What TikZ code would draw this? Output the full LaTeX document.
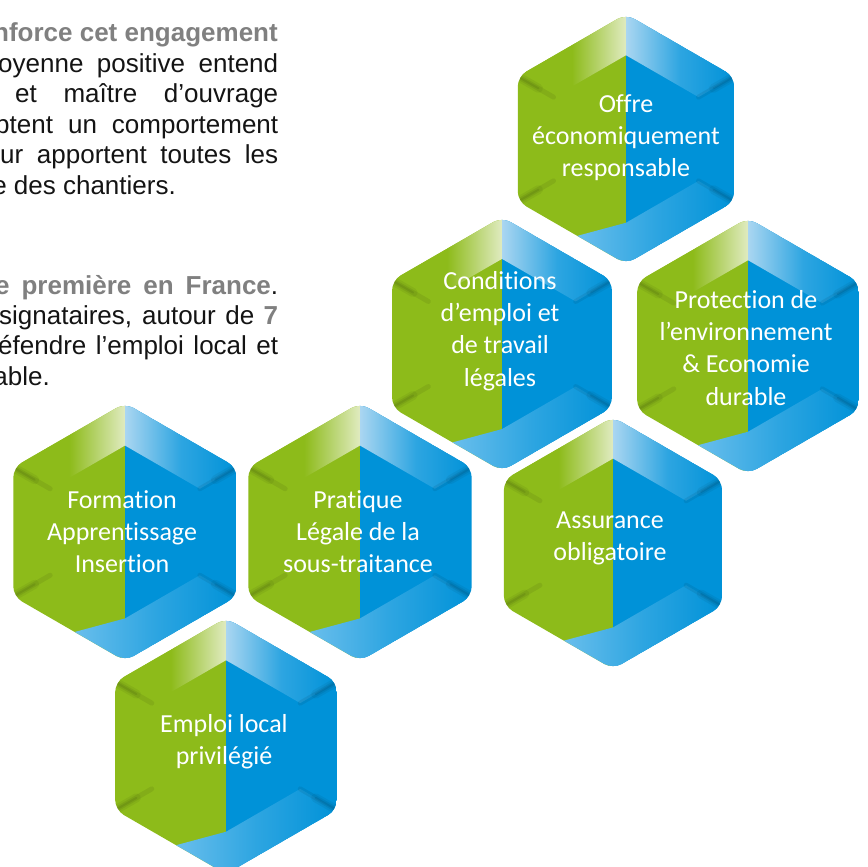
\documentclass[tikz,border=0pt]{standalone}
\usepackage{fontspec}
\setmainfont{Liberation Sans}
\newfontfamily\calib[Ligatures={NoCommon,NoContextual}]{Carlito}
\definecolor{hg}{RGB}{141,187,26}
\definecolor{hgpale}{RGB}{224,235,192}
\definecolor{hb}{RGB}{0,146,216}
\definecolor{hbmid}{RGB}{45,165,225}
\definecolor{hbpale}{RGB}{170,214,241}
\definecolor{hblight}{RGB}{105,190,236}
\definecolor{txtgray}{RGB}{128,128,128}
\definecolor{txtblack}{RGB}{20,20,20}
\tikzset{
  htext/.style={anchor=base, text=white, inner sep=0pt, font=\calib\fontsize{26}{32}\selectfont},
  ltext/.style={anchor=base west, inner sep=0pt, text=txtblack, font=\fontsize{26}{30}\selectfont},
  streakwide/.style={line cap=round, line width=9pt, draw=black, draw opacity=0.05},
  streakmid/.style={line cap=round, line width=5pt, draw=black, draw opacity=0.07},
  streaknarrow/.style={line cap=round, line width=2pt, draw=black, draw opacity=0.08},
}
\newcommand\hexcell[4]{%
  \begin{scope}[shift={(#2,#3)}]
    \coordinate (#1) at (0,0);
    \coordinate (#1T)  at (0,{-#4});
    \coordinate (#1B)  at (0,{#4});
    \coordinate (#1UL) at ({-0.866*#4},{-0.5*#4});
    \coordinate (#1LL) at ({-0.866*#4},{0.5*#4});
    \coordinate (#1UR) at ({0.866*#4},{-0.5*#4});
    \coordinate (#1LR) at ({0.866*#4},{0.5*#4});
    \coordinate (#1iT)  at (0,{-0.67*#4});
    \coordinate (#1iB)  at (0,{0.67*#4});
    \coordinate (#1iUL) at ({-0.58*#4},{-0.335*#4});
    \coordinate (#1iLL) at ({-0.58*#4},{0.335*#4});
    \coordinate (#1iUR) at ({0.58*#4},{-0.335*#4});
    \coordinate (#1iLR) at ({0.58*#4},{0.335*#4});
    \coordinate (#1mUL) at ({-0.70*#4},{-0.405*#4});
    \coordinate (#1mLL) at ({-0.70*#4},{0.405*#4});
    \coordinate (#1mUR) at ({0.70*#4},{-0.405*#4});
    \coordinate (#1mLR) at ({0.70*#4},{0.405*#4});
    \coordinate (#1S) at ({-0.39*#4},{0.775*#4});
    \begin{scope}
      \clip[rounded corners=10pt] (#1T) -- (#1UR) -- (#1LR) -- (#1B) -- (#1LL) -- (#1UL) -- cycle;
      \fill[hg] (#1T) -- (#1UL) -- (#1LL) -- (#1B) -- cycle;
      \fill[hb] (#1T) -- (#1UR) -- (#1LR) -- (#1B) -- cycle;
      \shade[left color=hg, right color=hgpale, middle color=hg] (#1UL) -- (#1T) -- (#1iT) -- (#1iUL) -- cycle;
      \shade[left color=hbpale, right color=hb, middle color=hbmid] (#1T) -- (#1UR) -- (#1iUR) -- (#1iT) -- cycle;
      \shade[left color=hblight, right color=hb, middle color=hbmid] (#1S) -- (#1B) -- (#1LR) -- (#1iLR) -- (#1iB) -- cycle;
      \foreach \cc in {UL,LL,UR,LR}{
        \draw[streakwide] (#1\cc) -- (#1m\cc);
        \draw[streakmid] (#1\cc) -- (#1i\cc);
        \draw[streaknarrow] (#1\cc) -- (#1m\cc);
      }
    \end{scope}
  \end{scope}}
\newcommand\hexlabel[4]{%
  \foreach \htx [count=\i from 0] in {#4}{
    \node[htext] (#1-\i) at (#2,{#3+32.4*\i}) {\htx};
  }}
\begin{document}
\begin{tikzpicture}[x=1pt,y=-1pt]
\useasboundingbox (0,0) rectangle (868,867);
\fill[white] (0,0) rectangle (868,867);

% left text (cut by the page edge, as in the reference)
\node[ltext, anchor=base east] (p1) at (278,42) {\textcolor{txtgray}{\bfseries nforce cet engagement}};
\node[ltext] (p2) at (-2,72.4) {\makebox[280pt][s]{oyenne positive entend}};
\node[ltext] (p3) at (15,102.8) {\makebox[263pt][s]{et maître d’ouvrage}};
\node[ltext] (p4) at (-5,133.2) {\makebox[283pt][s]{ptent un comportement}};
\node[ltext] (p5) at (0,163.6) {\makebox[278pt][s]{ur apportent toutes les}};
\node[ltext, anchor=base east] (p6) at (176,194) {e des chantiers.};
\node[ltext] (p7) at (-5,294) {\makebox[283pt][s]{\textcolor{txtgray}{\bfseries e première en France}.}};
\node[ltext] (p8) at (-1,324.4) {\makebox[279pt][s]{signataires, autour de \textcolor{txtgray}{\bfseries 7}}};
\node[ltext] (p9) at (-2,354.8) {\makebox[280pt][s]{éfendre l’emploi local et}};
\node[ltext, anchor=base east] (p10) at (50,385.2) {able.};

% hexagons
\hexcell{offre}{626}{139}{125}
\hexcell{cond}{502}{344}{127}
\hexcell{prot}{748}{346}{128}
\hexcell{form}{125}{532}{129}
\hexcell{prat}{360}{532}{129}
\hexcell{assu}{613}{543}{126}
\hexcell{empl}{226}{746}{128}

\hexlabel{offret}{626}{112}{Offre, économiquement, responsable}
\hexlabel{condt}{500}{289}{Conditions, d’emploi et, de travail, légales}
\hexlabel{prott}{746}{308}{Protection de, l’environnement, \& Economie, durable}
\hexlabel{formt}{122}{508}{Formation, Apprentissage, Insertion}
\hexlabel{pratt}{358}{508}{Pratique, Légale de la, sous-traitance}
\hexlabel{assut}{610}{528}{Assurance, obligatoire}
\hexlabel{emplt}{224}{732}{Emploi local, privilégié}
\end{tikzpicture}
\end{document}
